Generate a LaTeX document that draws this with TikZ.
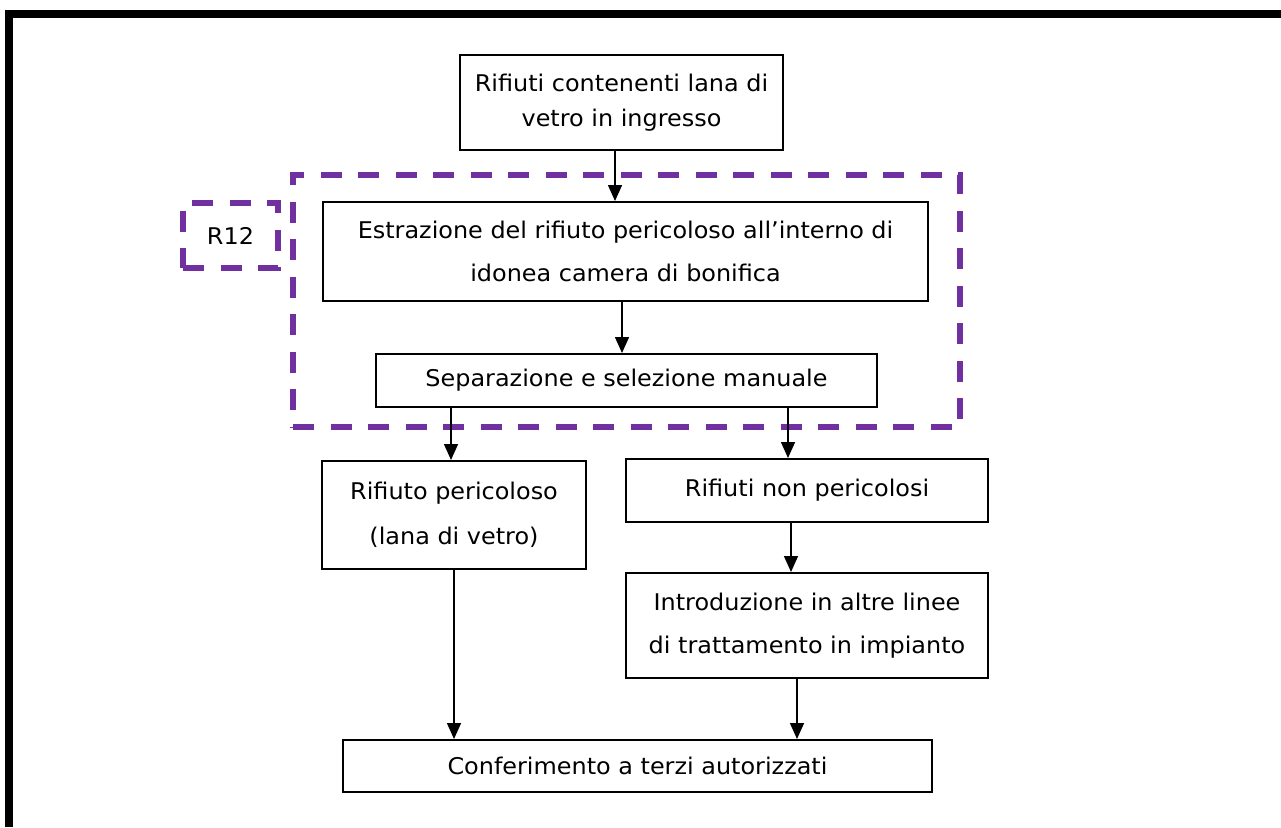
\documentclass[tikz,border=0pt]{standalone}
\usepackage{fontspec}
\setmainfont[FakeStretch=1.04]{DejaVu Sans}
\usetikzlibrary{arrows.meta,calc}
\definecolor{violetto}{HTML}{7030A0}
\begin{document}
\begin{tikzpicture}[x=1pt,y=-1pt,
  box/.style={draw, line width=2pt, inner sep=0pt, align=center, font=\fontsize{23}{43}\selectfont},
  purp/.style={draw=violetto, line width=5.5pt, dash pattern=on 21pt off 16.5pt, inner sep=0pt},
  arr/.style={line width=1.5pt, -{Triangle[width=14pt,length=16pt]}}]
\useasboundingbox (0,0) rectangle (1281,827);
% page border
\draw[line width=8pt] (9,827) -- (9,13.5) -- (1281,13.5);
% dashed group
\node[purp, minimum width=667pt, minimum height=252pt] (grp) at (626.5,301) {};
\node[purp, minimum width=95pt, minimum height=65pt, font=\fontsize{23}{27}\selectfont] (r12) at (230.5,235.5) {R12};
% boxes
\node[box, minimum width=323pt, minimum height=95pt, font=\fontsize{23}{35}\selectfont] (b1) at (621.5,102.5) {Rifiuti contenenti lana di\\vetro in ingresso};
\node[box, minimum width=605pt, minimum height=99pt] (b2) at (625.5,251.5) {Estrazione del rifiuto pericoloso all’interno di\\idonea camera di bonifica};
\node[box, minimum width=501pt, minimum height=53pt] (b3) at (626.5,380.5) {Separazione e selezione manuale};
\node[box, minimum width=264pt, minimum height=108pt, font=\fontsize{23}{45}\selectfont] (b4) at (454,515) {Rifiuto pericoloso\\(lana di vetro)};
\node[box, minimum width=362pt, minimum height=63pt] (b5) at (807,490.5) {Rifiuti non pericolosi};
\node[box, minimum width=362pt, minimum height=105pt] (b6) at (807,625.5) {Introduzione in altre linee\\di trattamento in impianto};
\node[box, minimum width=589pt, minimum height=52pt] (b7) at (637.5,766) {Conferimento a terzi autorizzati};
% arrows
\draw[arr] ([xshift=-6.5pt]b1.south) -- ([xshift=-6.5pt]b1.south |- b2.north);
\draw[arr] ([xshift=-3.5pt]b2.south) -- ([xshift=-3.5pt]b2.south |- b3.north);
\draw[arr] ([xshift=-175.5pt]b3.south) -- ([xshift=-175.5pt]b3.south |- b4.north);
\draw[arr] ([xshift=161.5pt]b3.south) -- ([xshift=161.5pt]b3.south |- b5.north);
\draw[arr] ([xshift=-16pt]b5.south) -- ([xshift=-16pt]b5.south |- b6.north);
\draw[arr] ([xshift=-10pt]b6.south) -- ([xshift=-10pt]b6.south |- b7.north);
\draw[arr] (b4.south) -- (b4.south |- b7.north);
\end{tikzpicture}
\end{document}
